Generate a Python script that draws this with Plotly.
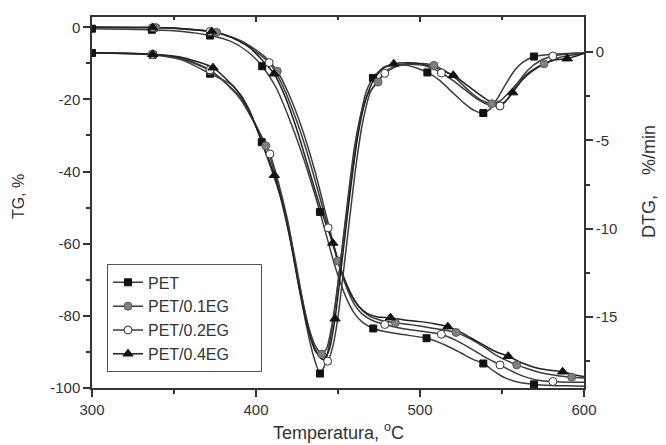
import plotly.graph_objects as go

# ---------------- data ----------------
series_names = ["PET", "PET/0.1EG", "PET/0.2EG", "PET/0.4EG"]

# TG curves (left axis), temperature in °C, TG in %
tg_pet_x = [300, 336.5, 355, 372, 385, 395, 403.8, 412, 420, 428, 434, 439, 444, 448, 452, 456, 460, 465,
            471.5, 480, 490, 504, 515, 525, 532, 538.6, 545, 552, 560, 569.5, 580, 590, 600]
tg_pet_y = [-0.4, -0.7, -1.2, -2.3, -4.0, -6.8, -10.8, -16.5, -25.0, -35.0, -43.5, -51.2, -59.5, -66.0,
            -71.5, -76.0, -79.3, -81.8, -83.5, -84.5, -85.2, -86.2, -88.0, -90.3, -92.0, -93.2, -95.3,
            -97.2, -98.4, -99.0, -99.3, -99.4, -99.5]
tg_pet_mx = [300, 336.5, 372, 403.8, 439, 471.5, 504, 538.6, 569.5]

tg_01_x = [300, 339, 358, 376, 392, 405, 413, 420, 428, 436, 443, 450, 455, 460, 465, 470, 476, 485, 495,
           505, 513, 522, 530, 538, 546, 559, 568, 576, 584, 592.5, 600]
tg_01_y = [0, -0.1, -0.5, -1.4, -4.0, -8.0, -12.2, -18.5, -28.0, -40.0, -52.5, -64.8, -71.5, -75.8, -78.6,
           -80.3, -81.2, -81.9, -82.5, -83.2, -83.8, -84.6, -86.2, -88.3, -90.8, -93.6, -95.0, -96.0,
           -96.6, -97.0, -97.2]
tg_01_mx = [339, 376, 413, 450, 485, 522, 559, 592.5]

tg_02_x = [300, 337, 355, 372, 385, 395, 408, 415, 422, 430, 437, 444, 448, 452, 456, 460, 465, 471,
           478.5, 490, 500, 513, 522, 530, 538, 548.8, 558, 566, 573, 581, 590, 600]
tg_02_y = [0, -0.1, -0.5, -1.2, -2.8, -5.2, -9.8, -15.0, -22.5, -33.0, -44.0, -55.6, -62.0, -68.0, -73.0,
           -76.8, -79.6, -81.3, -82.4, -83.6, -84.2, -85.1, -86.8, -88.8, -91.0, -93.6, -95.8, -97.2,
           -97.9, -98.2, -98.4, -98.4]
tg_02_mx = [337, 372, 408, 444, 478.5, 513, 548.8, 581]

tg_04_x = [300, 337, 355, 373, 385, 396, 411, 418, 425, 432, 440, 446.8, 451, 455, 459, 463, 468, 474,
           482, 492, 500, 508, 517, 525, 533, 541, 547, 553.8, 562, 570, 578, 587, 594, 600]
tg_04_y = [0, -0.1, -0.4, -1.2, -2.8, -5.6, -12.9, -19.5, -28.5, -39.0, -51.0, -59.8, -66.0, -71.0, -74.8,
           -77.5, -79.4, -80.3, -80.5, -81.2, -81.6, -82.1, -83.0, -84.6, -86.6, -88.7, -90.1, -91.2,
           -93.0, -94.3, -95.0, -95.5, -96.3, -96.8]
tg_04_mx = [337, 373, 411, 446.8, 482, 517, 553.8, 587]

# DTG curves (right axis), DTG in %/min
dtg_pet_x = [300, 320, 337, 355, 372, 386, 396, 403.5, 410, 416, 421, 426, 431, 435, 439, 442, 445, 448,
             451, 455, 459, 463, 467, 471.3, 478, 485, 492, 498, 504.5, 512, 520, 527, 533, 538.6, 543,
             548, 553, 558, 563, 569.5, 580, 590, 600]
dtg_pet_y = [-0.05, -0.07, -0.15, -0.45, -1.22, -1.9, -3.3, -5.1, -6.8, -8.5, -10.6, -13.2, -15.6, -17.2,
             -18.2, -17.7, -16.4, -14.6, -12.3, -9.3, -6.5, -4.0, -2.3, -1.46, -0.85, -0.7, -0.75, -0.9,
             -1.15, -1.6, -2.3, -2.9, -3.3, -3.45, -3.2, -2.5, -1.7, -1.0, -0.55, -0.25, -0.12, -0.07,
             -0.05]
dtg_pet_mx = [300, 337, 372, 403.5, 439, 471.3, 504.5, 538.6, 569.5]

dtg_01_x = [300, 337, 355, 372, 390, 406, 411, 416, 421, 426, 431, 436, 440, 443, 446, 449, 452, 456,
            460, 464, 468, 474.4, 480, 487, 495, 502, 508.5, 515, 522, 530, 537, 543.7, 549, 555, 561,
            568, 575.6, 585, 600]
dtg_01_y = [-0.04, -0.13, -0.4, -1.05, -2.5, -5.3, -6.7, -8.4, -10.5, -13.0, -15.2, -16.6, -17.1, -16.8,
            -15.6, -13.8, -11.5, -8.3, -5.4, -3.5, -2.4, -1.69, -1.0, -0.75, -0.65, -0.65, -0.75, -1.05,
            -1.5, -2.2, -2.7, -2.92, -2.75, -2.2, -1.6, -1.05, -0.66, -0.3, -0.06]
dtg_01_mx = [337, 372, 406, 440, 474.4, 508.5, 543.7, 575.6]

dtg_02_x = [300, 337, 355, 372, 390, 408.5, 414, 419, 424, 429, 434, 439, 443.7, 447, 450, 453, 457, 461,
            465, 470, 478.5, 486, 494, 502, 508, 513, 520, 527, 534, 541, 548.8, 554, 560, 566, 573, 581,
            590, 600]
dtg_02_y = [-0.04, -0.12, -0.35, -1.0, -2.6, -5.77, -7.5, -9.4, -11.8, -14.3, -16.3, -17.3, -17.5, -16.6,
            -15.0, -12.7, -9.5, -6.4, -4.0, -2.2, -1.2, -0.8, -0.7, -0.75, -0.95, -1.18, -1.6, -2.1, -2.6,
            -2.95, -3.05, -2.6, -1.7, -1.0, -0.5, -0.22, -0.1, -0.05]
dtg_02_mx = [337, 372, 408.5, 443.7, 478.5, 513, 548.8, 581]

dtg_04_x = [300, 337, 355, 373.8, 392, 411.2, 416, 421, 426, 431, 436, 441, 444.5, 448.2, 451, 454, 458,
            462, 466, 471, 477, 484, 492, 500, 508, 514, 520.3, 527, 534, 541, 548, 552, 556.5, 562, 568,
            575, 582, 589.8, 600]
dtg_04_y = [-0.03, -0.12, -0.3, -0.88, -2.6, -6.97, -8.6, -10.7, -13.2, -15.4, -16.9, -17.4, -16.9, -15.1,
            -13.0, -10.6, -7.5, -4.8, -3.0, -1.7, -0.95, -0.66, -0.6, -0.65, -0.85, -1.05, -1.31, -1.75,
            -2.25, -2.7, -2.95, -2.8, -2.29, -1.6, -1.1, -0.7, -0.45, -0.37, -0.08]
dtg_04_mx = [337, 373.8, 411.2, 448.2, 484, 520.3, 556.5, 589.8]

# axis ticks
x_tickvals = [300, 400, 500, 600]
x_ticktext = ["300", "400", "500", "600"]
tg_tickvals = [0, -20, -40, -60, -80, -100]
tg_ticktext = ["0", "-20", "-40", "-60", "-80", "-100"]
dtg_tickvals = [0, -5, -10, -15]
dtg_ticktext = ["0", "-5", "-10", "-15"]

# ---------------- styling ----------------
FONT = "Liberation Sans, Arial, sans-serif"
styles = {
    "PET": dict(line="#3c3c3c", symbol="square", size=7, fill="#111111", edge="#111111"),
    "PET/0.1EG": dict(line="#3c3c3c", symbol="circle", size=8, fill="#808080", edge="#5a5a5a"),
    "PET/0.2EG": dict(line="#3c3c3c", symbol="circle", size=8, fill="#ffffff", edge="#333333"),
    "PET/0.4EG": dict(line="#222222", symbol="triangle-up", size=9, fill="#111111", edge="#111111"),
}

curves = [
    ("PET", tg_pet_x, tg_pet_y, tg_pet_mx, "y"),
    ("PET/0.1EG", tg_01_x, tg_01_y, tg_01_mx, "y"),
    ("PET/0.2EG", tg_02_x, tg_02_y, tg_02_mx, "y"),
    ("PET/0.4EG", tg_04_x, tg_04_y, tg_04_mx, "y"),
    ("PET", dtg_pet_x, dtg_pet_y, dtg_pet_mx, "y2"),
    ("PET/0.1EG", dtg_01_x, dtg_01_y, dtg_01_mx, "y2"),
    ("PET/0.2EG", dtg_02_x, dtg_02_y, dtg_02_mx, "y2"),
    ("PET/0.4EG", dtg_04_x, dtg_04_y, dtg_04_mx, "y2"),
]

fig = go.Figure()

for name, xs, ys, mxs, yax in curves:
    st = styles[name]
    fig.add_trace(go.Scatter(x=xs, y=ys, mode="lines", yaxis=yax, showlegend=False,
                             line=dict(color=st["line"], width=1.5, shape="spline", smoothing=0.6),
                             hoverinfo="skip"))

for name, xs, ys, mxs, yax in curves:
    st = styles[name]
    lookup = dict(zip(xs, ys))
    my = [lookup[m] for m in mxs]
    fig.add_trace(go.Scatter(x=mxs, y=my, mode="markers", yaxis=yax, showlegend=False,
                             marker=dict(symbol=st["symbol"], size=st["size"], color=st["fill"],
                                         line=dict(color=st["edge"], width=1))))

PAD = "\u00a0" * 6
for name in series_names:
    st = styles[name]
    fig.add_trace(go.Scatter(x=[None], y=[None], mode="lines+markers", name=name + PAD,
                             line=dict(color=st["line"], width=1.5),
                             marker=dict(symbol=st["symbol"], size=st["size"], color=st["fill"],
                                         line=dict(color=st["edge"], width=1))))

axis_line = dict(showline=True, linecolor="#333333", linewidth=1.5, showgrid=False, zeroline=False)
tickfont = dict(family=FONT, size=15, color="#333333")

# The page body has an 8 px margin; figure size and margins compensate for it so
# that the plot area lands at x 92..584, y 15..388 of the 666x445 window.
fig.update_layout(
    width=658, height=437,
    margin=dict(l=84, r=82, t=7, b=57),
    paper_bgcolor="white", plot_bgcolor="white",
    font=dict(family=FONT, color="#333333"),
    xaxis=dict(range=[300, 600], tickmode="array", tickvals=x_tickvals, ticktext=x_ticktext,
               ticks="outside", ticklen=7, tickwidth=1.5, tickcolor="#333333", tickfont=tickfont,
               minor=dict(dtick=50, tick0=300, ticks="outside", ticklen=4, tickwidth=1.5,
                          tickcolor="#333333"),
               mirror=True, **axis_line),
    xaxis2=dict(range=[300, 600], overlaying="x", side="top", tickmode="array", tickvals=x_tickvals,
                showticklabels=False, ticks="inside", ticklen=5, tickwidth=1.5, tickcolor="#333333",
                minor=dict(dtick=50, tick0=300, ticks="inside", ticklen=3, tickwidth=1.5,
                           tickcolor="#333333"),
                showline=False, showgrid=False, zeroline=False),
    yaxis=dict(range=[-100, 2.84], tickmode="array", tickvals=tg_tickvals, ticktext=tg_ticktext,
               ticks="outside", ticklen=7, tickwidth=1.5, tickcolor="#333333", tickfont=tickfont,
               minor=dict(dtick=10, tick0=0, ticks="outside", ticklen=4, tickwidth=1.5,
                          tickcolor="#333333"),
               **axis_line),
    yaxis2=dict(range=[-19.02, 1.99], overlaying="y", side="right", tickmode="array",
                tickvals=dtg_tickvals, ticktext=dtg_ticktext,
                ticks="outside", ticklen=7, tickwidth=1.5, tickcolor="#333333", tickfont=tickfont,
                minor=dict(dtick=2.5, tick0=0, ticks="outside", ticklen=4, tickwidth=1.5,
                           tickcolor="#333333"),
                **axis_line),
    legend=dict(x=0.0305, y=0.333, xanchor="left", yanchor="top", bgcolor="white",
                bordercolor="#555555", borderwidth=1, font=dict(family=FONT, size=16, color="#333333"),
                tracegroupgap=0),
    showlegend=True,
    annotations=[
        dict(text="Temperatura, <sup>o</sup>C", xref="paper", yref="paper", x=0.5, y=-0.118,
             xanchor="center", yanchor="middle", showarrow=False,
             font=dict(family=FONT, size=18, color="#333333")),
        dict(text="TG, %", xref="paper", yref="paper", x=-0.148, y=0.515, textangle=-90,
             xanchor="center", yanchor="middle", showarrow=False,
             font=dict(family=FONT, size=16, color="#333333")),
        dict(text="DTG,\u00a0\u00a0\u00a0\u00a0%/min", xref="paper",
             yref="paper", x=1.132, y=0.558, textangle=-90,
             xanchor="center", yanchor="middle", showarrow=False,
             font=dict(family=FONT, size=18, color="#333333")),
    ],
)

# make the inner top ticks render
fig.add_trace(go.Scatter(x=[None], y=[None], xaxis="x2", yaxis="y", showlegend=False, hoverinfo="skip"))

fig.write_html("out.html")
